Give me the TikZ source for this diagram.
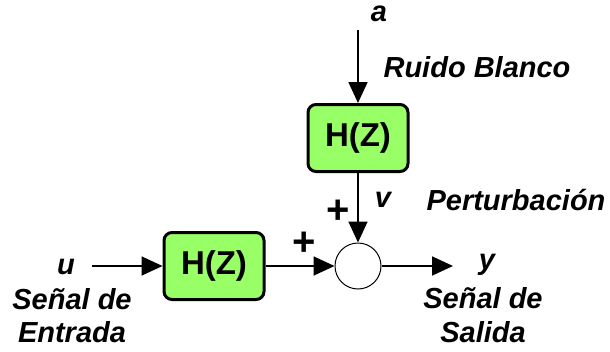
\documentclass[tikz,border=0pt]{standalone}
\usepackage{fontspec}
\setmainfont{Liberation Sans}
\usetikzlibrary{arrows.meta}
\definecolor{boxgreen}{HTML}{99FF66}
\tikzset{
  blk/.style={draw=black, line width=3pt, rounded corners=8pt, fill=boxgreen,
    minimum width=100pt, minimum height=67pt, inner sep=0pt,
    font=\fontsize{33}{36}\selectfont\bfseries},
  sumc/.style={draw=black, line width=1pt, circle, minimum size=46pt, inner sep=0pt, fill=white},
  lbl/.style={font=\fontsize{29}{32}\selectfont\bfseries\itshape, inner sep=0pt, align=center},
  sgn/.style={font=\fontsize{40}{42}\selectfont\bfseries, inner sep=0pt},
  sig/.style={line width=1.8pt, -{Triangle[length=21pt,width=19pt]}}
}
\begin{document}
\begin{tikzpicture}[x=1pt,y=-1pt]
\useasboundingbox (0,0) rectangle (610,351);
\node[blk] (h1) at (358,138) {H(Z)};
\node[blk] (h2) at (214,266) {H(Z)};
\node[sumc] (s) at (358,266) {};
\coordinate (ain) at (358,30);
\coordinate (uin) at (92,266);
\coordinate (yout) at (453,266);
\draw[sig] (ain) -- (h1.north);
\draw[sig] (h1.south) -- (s.north);
\draw[sig] (uin) -- (h2.west);
\draw[sig] (h2.east) -- (s.west);
\draw[sig] (s.east) -- (yout);
\node[lbl] (la) at (379,14) {a};
\node[lbl] (lrb) at (477,67) {Ruido Blanco};
\node[sgn] (p1) at (338,212) {+};
\node[lbl] (lv) at (383,200) {v};
\node[lbl] (lp) at (516,200) {Perturbación};
\node[sgn] (p2) at (304,244) {+};
\node[lbl] (lu) at (66,267) {u};
\node[lbl] (lse) at (72,299) {Señal de};
\node[lbl] (le) at (72,332) {Entrada};
\node[lbl] (ly) at (487,265) {y};
\node[lbl] (lss) at (483,298) {Señal de};
\node[lbl] (lsa) at (483,332) {Salida};
\end{tikzpicture}
\end{document}
